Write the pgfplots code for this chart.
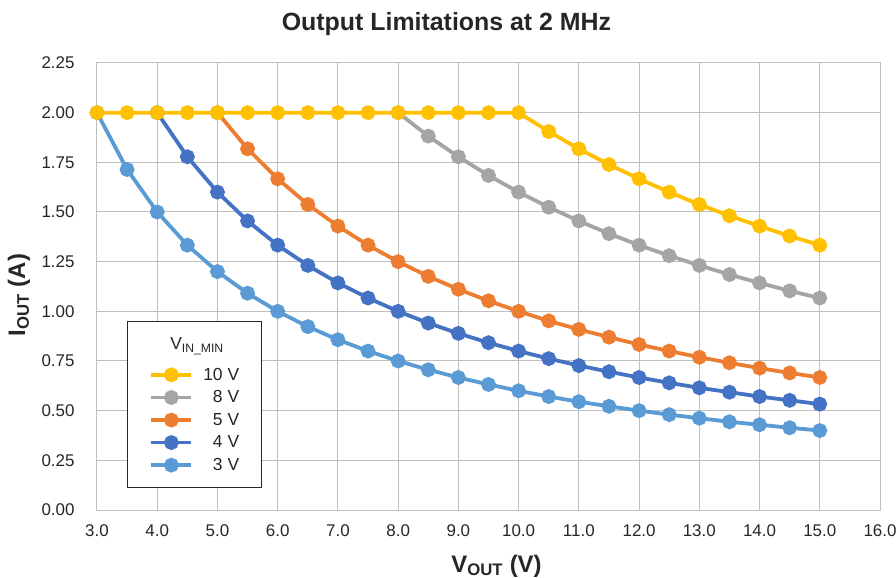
\documentclass[border=0pt]{standalone}
\usepackage{pgfplots}
\pgfplotsset{compat=1.18}
\usepackage{fontspec}
\setmainfont{Liberation Sans}
\definecolor{cA}{HTML}{FFC000}
\definecolor{cB}{HTML}{A5A5A5}
\definecolor{cC}{HTML}{ED7D31}
\definecolor{cD}{HTML}{4472C4}
\definecolor{cE}{HTML}{5B9BD5}
\definecolor{gridc}{HTML}{BFBFBF}
\begin{document}
\begin{tikzpicture}
\begin{axis}[
  at={(0,0)}, anchor=south west,
  scale only axis, width=783bp, height=447bp,
  xmin=3, xmax=16, ymin=0, ymax=2.25,
  xtick={3,4,5,6,7,8,9,10,11,12,13,14,15,16},
  ytick={0,0.25,0.5,0.75,1,1.25,1.5,1.75,2,2.25},
  /pgf/number format/assume math mode=true,
  xticklabel style={/pgf/number format/.cd,fixed,fixed zerofill,precision=1},
  yticklabel style={/pgf/number format/.cd,fixed,fixed zerofill,precision=2},
  tick label style={font=\fontsize{17}{20}\selectfont, text=black!85},
  major tick length=0pt,
  grid=major,
  grid style={draw=gridc, line width=1bp},
  axis line style={draw=gridc, line width=1bp},
  xtick align=outside, ytick align=outside,
  xticklabel shift=11bp, yticklabel shift=19bp,
  title={Output Limitations at 2 MHz},
  title style={at={(0.5,1)}, anchor=center, yshift=33bp, xshift=-42bp,
    font=\bfseries\fontsize{25}{28}\selectfont, text=black!85},
  xlabel={V\textsubscript{OUT} (V)},
  xlabel style={at={(0.5,0)}, anchor=center, yshift=-56bp, xshift=8bp,
    font=\bfseries\fontsize{24}{28}\selectfont, text=black!85},
  ylabel={I\textsubscript{OUT} (A)},
  ylabel style={at={(-0.0996,0.481)}, anchor=center, rotate=0,
    font=\bfseries\fontsize{24}{28}\selectfont, text=black!85},
  reverse legend,
  legend cell align=left,
  legend style={at={(0.0383,0.4228)}, anchor=north west,
    draw=black!85, line width=1bp, fill=white,
    inner xsep=22bp, inner ysep=16bp,
    font=\fontsize{17.5}{20}\selectfont, text=black!85,
    nodes={inner sep=0bp},
    row sep=9bp, column sep=10bp},
  legend image code/.code={\draw[mark repeat=2,mark phase=2] plot coordinates {(0bp,0bp) (20bp,0bp) (40bp,0bp)};},
  every axis plot/.append style={line width=3.8bp, mark=*, mark size=5.5bp, mark options={solid}},
]
\addplot[color=cE, mark options={fill=cE, draw=cE}] coordinates {
(3,2.000)(3.5,1.714)(4,1.500)(4.5,1.333)(5,1.200)(5.5,1.091)(6,1.000)(6.5,0.923)(7,0.857)(7.5,0.800)(8,0.750)(8.5,0.706)(9,0.667)(9.5,0.632)(10,0.600)(10.5,0.571)(11,0.545)(11.5,0.522)(12,0.500)(12.5,0.480)(13,0.462)(13.5,0.444)(14,0.429)(14.5,0.414)(15,0.400)};
\addlegendentry{\phantom{1}3 V}
\addplot[color=cD, mark options={fill=cD, draw=cD}] coordinates {
(4,2.000)(4.5,1.778)(5,1.600)(5.5,1.455)(6,1.333)(6.5,1.231)(7,1.143)(7.5,1.067)(8,1.000)(8.5,0.941)(9,0.889)(9.5,0.842)(10,0.800)(10.5,0.762)(11,0.727)(11.5,0.696)(12,0.667)(12.5,0.640)(13,0.615)(13.5,0.593)(14,0.571)(14.5,0.552)(15,0.533)};
\addlegendentry{\phantom{1}4 V}
\addplot[color=cC, mark options={fill=cC, draw=cC}] coordinates {
(5,2.000)(5.5,1.818)(6,1.667)(6.5,1.538)(7,1.429)(7.5,1.333)(8,1.250)(8.5,1.176)(9,1.111)(9.5,1.053)(10,1.000)(10.5,0.952)(11,0.909)(11.5,0.870)(12,0.833)(12.5,0.800)(13,0.769)(13.5,0.741)(14,0.714)(14.5,0.690)(15,0.667)};
\addlegendentry{\phantom{1}5 V}
\addplot[color=cB, mark options={fill=cB, draw=cB}] coordinates {
(8,2.000)(8.5,1.882)(9,1.778)(9.5,1.684)(10,1.600)(10.5,1.524)(11,1.455)(11.5,1.391)(12,1.333)(12.5,1.280)(13,1.231)(13.5,1.185)(14,1.143)(14.5,1.103)(15,1.067)};
\addlegendentry{\phantom{1}8 V}
\addplot[color=cA, mark options={fill=cA, draw=cA}] coordinates {
(3,2.000)(3.5,2.000)(4,2.000)(4.5,2.000)(5,2.000)(5.5,2.000)(6,2.000)(6.5,2.000)(7,2.000)(7.5,2.000)(8,2.000)(8.5,2.000)(9,2.000)(9.5,2.000)(10,2.000)(10.5,1.905)(11,1.818)(11.5,1.739)(12,1.667)(12.5,1.600)(13,1.538)(13.5,1.481)(14,1.429)(14.5,1.379)(15,1.333)};
\addlegendentry{10 V}
\addlegendimage{empty legend}
\addlegendentry{\hspace{-33bp}\raisebox{8bp}{V\textsubscript{IN\_MIN}}}
\end{axis}
\pgfresetboundingbox
\path (-97bp,-68bp) rectangle (799bp,510bp);
\end{tikzpicture}
\end{document}
